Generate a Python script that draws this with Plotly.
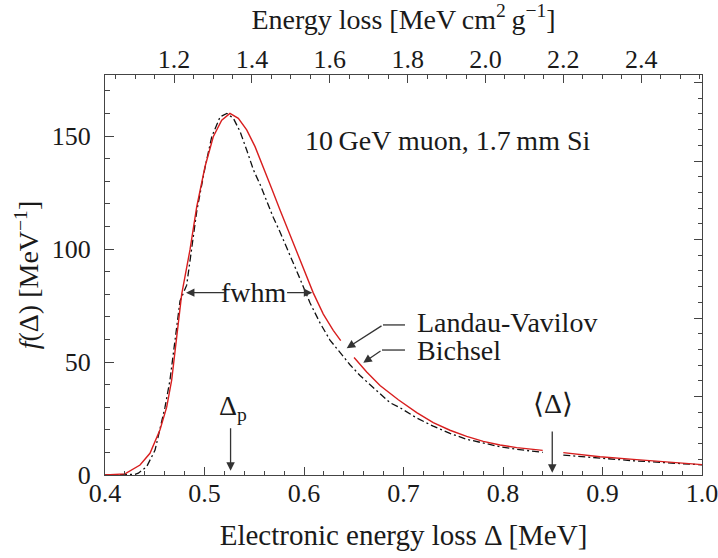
import plotly.graph_objects as go

# ---- data ----
bichsel_delta = [0.400, 0.410, 0.4201, 0.4352, 0.4452, 0.4553, 0.4620, 0.4670, 0.4704, 0.4737, 0.4771,
                 0.4854, 0.4922, 0.5005, 0.5088, 0.5173, 0.5256, 0.5340, 0.5424, 0.5508, 0.5591,
                 0.5675, 0.5759, 0.5892, 0.5993, 0.6093, 0.6194, 0.6294, 0.6369,
                 None,
                 0.6503, 0.6630, 0.6764, 0.6948, 0.7133, 0.7299, 0.7467, 0.7635, 0.7802, 0.7970,
                 0.8138, 0.8399,
                 None,
                 0.8606, 0.8807, 0.8975, 0.9310, 0.9645, 1.000]
bichsel_f = [0.0, 0.1, 0.5, 4.4, 9.6, 20, 30, 42, 54, 67, 80,
             99.6, 118.7, 136.4, 149.7, 157, 160, 157.8, 152.7, 145.3, 136.4,
             126.8, 117.3, 102.5, 91.3, 80.6, 71.2, 64.0, 59.5,
             None,
             52.0, 45.6, 39.6, 33.3, 27.6, 23.2, 19.8, 17.1, 14.9, 13.3,
             12.1, 10.9,
             None,
             9.9, 8.8, 8.1, 6.9, 5.8, 4.6]

landau_delta = [0.400, 0.425, 0.4302, 0.4335, 0.4419, 0.4503, 0.4553, 0.4603, 0.4653, 0.4687, 0.4720,
                0.4754, 0.4821, 0.4873, 0.4923, 0.5007, 0.5073, 0.5157, 0.5224, 0.5291, 0.5358,
                0.5424, 0.5492, 0.5559, 0.5626, 0.5693, 0.5759, 0.5859, 0.5960, 0.6060, 0.6161,
                0.6261, 0.6362, 0.6462, 0.6563, 0.6697, 0.6864, 0.6965, 0.7133, 0.7299, 0.7467,
                0.7635, 0.7802, 0.7970, 0.8138, 0.8399,
                None,
                0.8606, 0.8975, 0.9310, 0.9645, 1.000]
landau_f = [0.0, 0.1, 0.3, 0.8, 3.7, 11, 20, 30, 42, 54, 67,
            77, 84, 100.5, 117, 136.4, 149.7, 158.5, 160, 157.8, 151.9,
            143.8, 135, 128.5, 121.0, 113.8, 107.5, 97.5, 86.8, 76.2, 67.3,
            59.7, 54.0, 48.8, 44.0, 38.6, 32.0, 29.8, 25.2, 21.6, 18.4,
            15.8, 14, 12.5, 11.4, 10,
            None,
            8.8, 7.4, 6.3, 5.4, 4.5]

rho_x = 0.3912  # g/cm^2, converts MeV -> MeV cm^2/g
x_range = [0.4, 1.0]
y_range = [0, 177]
x_ticks = [0.4, 0.5, 0.6, 0.7, 0.8, 0.9, 1.0]
top_ticks = [1.2, 1.4, 1.6, 1.8, 2.0, 2.2, 2.4]
y_ticks = [0, 50, 100, 150]

FONT = "Liberation Serif"
INK = "#1a1a1a"
AX = "#444444"
RED = "#d81e1e"
TICK_SIZE = 26
TEXT_SIZE = 28

fig = go.Figure()
fig.add_trace(go.Scatter(x=landau_delta, y=landau_f, mode="lines", connectgaps=False,
                         line=dict(color="#111111", width=1.3, dash="7px,3px,2px,3px"),
                         showlegend=False, hoverinfo="skip"))
fig.add_trace(go.Scatter(x=bichsel_delta, y=bichsel_f, mode="lines", connectgaps=False,
                         line=dict(color=RED, width=1.4),
                         showlegend=False, hoverinfo="skip"))
# invisible traces to activate secondary axes
fig.add_trace(go.Scatter(x=[x_range[0] / rho_x], y=[0], xaxis="x2", yaxis="y", mode="markers",
                         marker=dict(opacity=0), showlegend=False, hoverinfo="skip"))
fig.add_trace(go.Scatter(x=[0.5], y=[0], xaxis="x", yaxis="y2", mode="markers",
                         marker=dict(opacity=0), showlegend=False, hoverinfo="skip"))

axis_common = dict(showline=True, linecolor=AX, linewidth=1.3, ticks="inside",
                   tickcolor=AX, tickwidth=1.2, showgrid=False, zeroline=False, automargin=False,
                   ticklabeloverflow="allow",
                   tickfont=dict(family=FONT, size=TICK_SIZE, color=INK))

fig.update_layout(
    width=718, height=558,
    margin=dict(l=105, r=16, t=75, b=83),
    paper_bgcolor="white", plot_bgcolor="white",
    font=dict(family=FONT, color=INK),
    xaxis=dict(range=x_range, tickvals=x_ticks, ticktext=[f"{v:.1f}" for v in x_ticks],
               ticklen=8, minor=dict(dtick=0.02, ticklen=4, ticks="inside", tickcolor=AX),
               ticklabelstandoff=-5,
               title=dict(text="Electronic energy loss Δ [MeV]",
                          font=dict(family=FONT, size=29, color=INK), standoff=17),
               **axis_common),
    xaxis2=dict(overlaying="x", side="top", range=[x_range[0] / rho_x, x_range[1] / rho_x],
                tickvals=top_ticks, ticktext=[f"{v:.1f}" for v in top_ticks],
                ticklen=8, minor=dict(dtick=0.05, ticklen=4, ticks="inside", tickcolor=AX),
                ticklabelstandoff=-5,
                title=dict(text="Energy loss [MeV\u2009cm<sup>2</sup>\u2009g<sup>−1</sup>]",
                           font=dict(family=FONT, size=TEXT_SIZE, color=INK), standoff=13),
                **axis_common),
    yaxis=dict(range=y_range, tickvals=y_ticks, ticklen=9,
               minor=dict(dtick=10, ticklen=4.5, ticks="inside", tickcolor=AX),
               ticklabelstandoff=8,
               title=dict(text="<i>f</i>(Δ) [MeV<sup>−1</sup>]",
                          font=dict(family=FONT, size=TEXT_SIZE, color=INK), standoff=4),
               **axis_common),
    yaxis2=dict(overlaying="y", side="right", range=[0, 400 / 78.5], dtick=1,
                showticklabels=False, ticklen=8,
                minor=dict(dtick=0.2, ticklen=4, ticks="inside", tickcolor=AX),
                **axis_common),
)

ARW = "#333333"
ann = []
ann.append(dict(x=0.744, y=148, text="10\u2009GeV muon, 1.7\u2009mm Si", showarrow=False,
                font=dict(family=FONT, size=TEXT_SIZE, color=INK)))
ann.append(dict(x=0.5497, y=80.7, text="fwhm", showarrow=False, font=dict(family=FONT, size=TEXT_SIZE, color=INK)))
# fwhm arrows
for tail, tip in [(0.5226, 0.4814), (0.5815, 0.6083)]:
    ann.append(dict(x=tip, y=80.7, ax=tail, ay=80.7, axref="x", ayref="y", text="", showarrow=True,
                    arrowhead=2, arrowsize=1.3, arrowwidth=1.3, arrowcolor=ARW, standoff=0))
# legend-like labels
ann.append(dict(x=0.7116, y=67.3, text="Landau-Vavilov", showarrow=False, xanchor="left",
                font=dict(family=FONT, size=TEXT_SIZE, color=INK)))
ann.append(dict(x=0.7116, y=55.0, text="Bichsel", showarrow=False, xanchor="left",
                font=dict(family=FONT, size=TEXT_SIZE, color=INK)))
ann.append(dict(x=0.6429, y=56.1, ax=0.6794, ay=66.4, axref="x", ayref="y", text="", showarrow=True,
                arrowhead=2, arrowsize=1.3, arrowwidth=1.3, arrowcolor=ARW, standoff=0))
ann.append(dict(x=0.6596, y=49.7, ax=0.6784, ay=55.3, axref="x", ayref="y", text="", showarrow=True,
                arrowhead=2, arrowsize=1.3, arrowwidth=1.3, arrowcolor=ARW, standoff=0))
# Delta_p and mean markers
ann.append(dict(x=0.5286, y=30.0, text="Δ<sub>p</sub>", showarrow=False,
                font=dict(family=FONT, size=TEXT_SIZE, color=INK)))
ann.append(dict(x=0.5262, y=1.9, ax=0.5262, ay=21.4, axref="x", ayref="y", text="", showarrow=True,
                arrowhead=2, arrowsize=1.3, arrowwidth=1.3, arrowcolor=ARW, standoff=0))
ann.append(dict(x=0.8503, y=31.5, text="⟨Δ⟩", showarrow=False, font=dict(family=FONT, size=TEXT_SIZE, color=INK)))
ann.append(dict(x=0.8495, y=1.0, ax=0.8495, ay=19.9, axref="x", ayref="y", text="", showarrow=True,
                arrowhead=2, arrowsize=1.3, arrowwidth=1.3, arrowcolor=ARW, standoff=0))
fig.update_layout(annotations=ann)

fig.add_shape(type="line", x0=0.6794, x1=0.7015, y0=66.4, y1=66.4, xref="x", yref="y",
              line=dict(color=ARW, width=1.3))
fig.add_shape(type="line", x0=0.6784, x1=0.7015, y0=55.3, y1=55.3, xref="x", yref="y",
              line=dict(color=ARW, width=1.3))

fig.write_html("out.html", config={"displayModeBar": False},
               post_script="document.body.style.margin='0';document.body.style.overflow='hidden';")
